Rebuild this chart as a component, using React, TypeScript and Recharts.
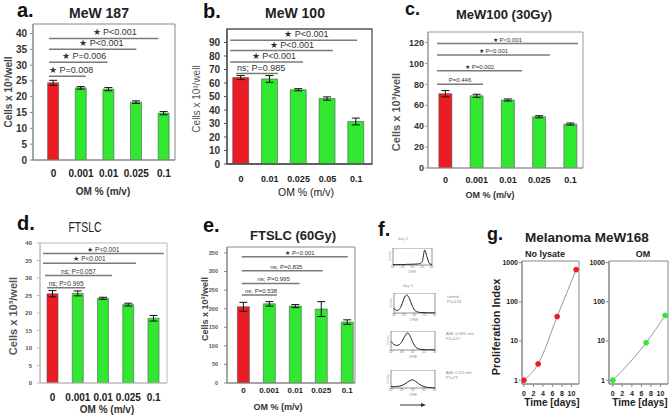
import React from "react";
import {
  Bar,
  BarChart,
  Cell,
  ErrorBar,
  Line,
  LineChart,
  ReferenceArea,
  ReferenceLine,
  XAxis,
  YAxis,
} from "recharts";

const FONT = 'Arial, "Liberation Sans", Helvetica, sans-serif';
const RED = "#ec1c24";
const GREEN = "#30e830";

// a. MeW 187
const aDoses = ["0", "0.001", "0.01", "0.025", "0.1"];
const aCells = [24.4, 22.8, 22.4, 18.3, 14.8];
const aErr = [0.8, 0.4, 0.5, 0.4, 0.5];
const aSig = [
  { from: -0.16, to: 1.17, y: 26.5, text: "★ P=0.008" },
  { from: -0.16, to: 1.96, y: 30.9, text: "★ P=0.006" },
  { from: -0.16, to: 3.0, y: 35, text: "★ P<0.001" },
  { from: -0.16, to: 3.8, y: 38.4, text: "★ P<0.001" },
];

// b. MeW 100
const bDoses = ["0", "0.01", "0.025", "0.05", "0.1"];
const bCells = [64, 63, 55, 48.5, 31.5];
const bErr = [1.5, 2.5, 0.8, 1.2, 2.5];
const bSig = [
  { from: -0.17, to: 1.28, y: 67, text: "ns; P=0.985" },
  { from: -0.38, to: 2.15, y: 75.5, text: "★ P<0.001" },
  { from: -0.38, to: 3.19, y: 84, text: "★ P<0.001" },
  { from: -0.38, to: 4.03, y: 91.7, text: "★ P<0.001" },
];

// c. MeW100 (30Gy)
const cDoses = ["0", "0.001", "0.01", "0.025", "0.1"];
const cCells = [71, 69, 65, 49, 42];
const cErr = [3, 1.5, 1, 1, 1];
const cSig = [
  { from: -0.27, to: 1.2, y: 80, text: "P=0.446" },
  { from: -0.27, to: 2.45, y: 93, text: "★ P=0.002" },
  { from: -0.27, to: 3.34, y: 108, text: "★ P<0.001" },
  { from: -0.27, to: 4.24, y: 119, text: "★ P<0.001" },
];

// d. FTSLC
const dDoses = ["0", "0.001", "0.01", "0.025", "0.1"];
const dCells = [25.5, 25.6, 24.2, 22.4, 18.5];
const dErr = [0.9, 0.7, 0.3, 0.4, 0.8];
const dSig = [
  { from: -0.22, to: 1.29, y: 27.2, text: "ns; P=0.995" },
  { from: -0.3, to: 2.35, y: 30.7, text: "ns; P=0.057" },
  { from: -0.38, to: 3.3, y: 34.2, text: "★ P<0.001" },
  { from: -0.38, to: 4.4, y: 37, text: "★ P<0.001" },
];

// e. FTSLC (60Gy)
const eDoses = ["0", "0.001", "0.01", "0.025", "0.1"];
const eCells = [205, 213, 207, 199, 164];
const eErr = [12, 6, 4, 20, 6];
const eSig = [
  { from: -0.06, to: 1.29, y: 237, text: "ns; P=0.538" },
  { from: -0.06, to: 2.17, y: 268, text: "ns; P=0.995" },
  { from: -0.06, to: 3.06, y: 302, text: "ns; P=0.835" },
  { from: -0.06, to: 4.02, y: 340, text: "★ P<0.001" },
];

// f. CFSE histograms (x in log decades)
const fLog = [0, 0.25, 0.5, 0.75, 1, 1.25, 1.5, 1.75, 2, 2.25, 2.5, 2.75, 3, 3.25, 3.5, 3.75, 4];
const fDay0 = [3, 2, 2, 3, 3, 3, 4, 4, 5, 5, 6, 8, 20, 88, 45, 8, 3];
const fControl = [25, 12, 18, 40, 75, 90, 72, 40, 15, 6, 3, 2, 2, 1, 1, 1, 1];
const fAml004 = [45, 30, 24, 28, 45, 72, 90, 72, 38, 15, 6, 3, 2, 1, 1, 1, 1];
const fAml01 = [8, 7, 8, 10, 14, 22, 32, 42, 45, 36, 24, 14, 8, 4, 2, 1, 1];
const fDecadeLabels = ["10⁰", "10¹", "10²", "10³", "10⁴"];

// g. Melanoma MeW168
const gNoDays = [0, 3, 7, 11];
const gNoIndex = [1, 2.6, 42, 660];
const gOmDays = [0, 7, 11];
const gOmIndex = [1, 9, 45];
const gDayTicks = [0, 2, 4, 6, 8, 10];
const gIndexTicks = [1, 10, 100, 1000];

type Sig = { from: number; to: number; y: number; text: string };

type PanelProps = {
  doses: string[];
  cells: number[];
  errs: number[];
  sig: Sig[];
  box: [number, number, number, number];
  xDomain: [number, number];
  yMax: number;
  yTicks: number[];
  barSize: number;
  frame: string;
  frameW: number;
  yTickFont: number;
  yTickFill: string;
  yTickGap: number;
  xTickFont: number;
  xTickGap: number;
  sigFont: number;
  sigFrac: number;
  sigGap: number;
};

function sigLabel(text: string, size: number, frac: number, gap: number) {
  return (lp: any) => {
    const vb = lp.viewBox || {};
    return (
      <text
        x={vb.x + vb.width * frac}
        y={vb.y - gap}
        textAnchor="middle"
        fontSize={size}
        fontFamily={FONT}
        fill="#333"
      >
        {text}
      </text>
    );
  };
}

function BarPanel(p: PanelProps) {
  const [l, t, r, b] = p.box;
  const yW = 30;
  const mT = 4;
  const xH = 30;
  const rows = p.doses.map((d, i) => ({ i, dose: d, cells: p.cells[i], err: p.errs[i] }));
  return (
    <div style={{ position: "absolute", left: l - yW, top: t - mT }}>
      <BarChart
        width={r - l + yW + 4}
        height={b - t + mT + xH}
        data={rows}
        margin={{ top: mT, right: 4, bottom: 0, left: 0 }}
      >
        <XAxis
          type="number"
          dataKey="i"
          domain={p.xDomain}
          ticks={[0, 1, 2, 3, 4]}
          interval={0}
          allowDataOverflow
          tickFormatter={(v) => p.doses[v] ?? ""}
          height={xH}
          tickLine={false}
          tickSize={p.xTickGap}
          tickMargin={0}
          axisLine={{ stroke: p.frame, strokeWidth: p.frameW }}
          tick={{ fontSize: p.xTickFont, fontWeight: 700, fill: "#222", fontFamily: FONT }}
        />
        <YAxis
          type="number"
          domain={[0, p.yMax]}
          ticks={p.yTicks}
          interval={0}
          allowDataOverflow
          width={yW}
          tickSize={3}
          tickMargin={p.yTickGap - 3}
          axisLine={{ stroke: p.frame, strokeWidth: p.frameW }}
          tickLine={{ stroke: p.frame }}
          tick={{ fontSize: p.yTickFont, fontWeight: 700, fill: p.yTickFill, fontFamily: FONT }}
        />
        <ReferenceArea
          x1={p.xDomain[0]}
          x2={p.xDomain[1]}
          y1={0}
          y2={p.yMax}
          fill="none"
          stroke={p.frame}
          strokeWidth={p.frameW}
          ifOverflow="visible"
        />
        <Bar
          dataKey="cells"
          barSize={p.barSize}
          isAnimationActive={false}
          stroke="#555"
          strokeWidth={0.6}
        >
          {rows.map((row) => (
            <Cell key={row.i} fill={row.i === 0 ? RED : GREEN} />
          ))}
          <ErrorBar dataKey="err" width={4} stroke="#111" strokeWidth={1} />
        </Bar>
        {p.sig.map((s, k) => (
          <ReferenceLine
            key={k}
            segment={[
              { x: s.from, y: s.y },
              { x: s.to, y: s.y },
            ]}
            stroke="#7a7a7a"
            strokeWidth={1.5}
            ifOverflow="visible"
            label={{ value: s.text, content: sigLabel(s.text, p.sigFont, p.sigFrac, p.sigGap) }}
          />
        ))}
      </BarChart>
    </div>
  );
}

function GrowthPanel(props: {
  days: number[];
  index: number[];
  color: string;
  box: [number, number, number, number];
  xDomain: [number, number];
}) {
  const [l, t, r, b] = props.box;
  const yW = 24;
  const mT = 4;
  const xH = 16;
  const rows = props.days.map((d, i) => ({ day: d, idx: props.index[i] }));
  return (
    <div style={{ position: "absolute", left: l - yW, top: t - mT }}>
      <LineChart
        width={r - l + yW + 4}
        height={b - t + mT + xH}
        data={rows}
        margin={{ top: mT, right: 4, bottom: 0, left: 0 }}
      >
        <XAxis
          type="number"
          dataKey="day"
          domain={props.xDomain}
          ticks={gDayTicks}
          interval={0}
          allowDataOverflow
          height={xH}
          tickSize={3}
          tickMargin={4}
          axisLine={{ stroke: "#888" }}
          tickLine={{ stroke: "#888" }}
          tick={{ fontSize: 7, fontWeight: 700, fill: "#222", fontFamily: FONT }}
        />
        <YAxis
          type="number"
          scale="log"
          domain={[0.8, 1100]}
          ticks={gIndexTicks}
          interval={0}
          allowDataOverflow
          width={yW}
          tickSize={3}
          tickMargin={1}
          axisLine={{ stroke: "#888" }}
          tickLine={{ stroke: "#888" }}
          tick={{ fontSize: 7, fontWeight: 700, fill: "#222", fontFamily: FONT }}
        />
        <ReferenceArea
          x1={props.xDomain[0]}
          x2={props.xDomain[1]}
          y1={0.8}
          y2={1100}
          fill="none"
          stroke="#888"
          ifOverflow="visible"
        />
        <Line
          dataKey="idx"
          type="monotone"
          stroke="#9a9a9a"
          strokeWidth={1}
          isAnimationActive={false}
          dot={{ r: 2.4, fill: props.color, stroke: props.color }}
        />
      </LineChart>
    </div>
  );
}

function HistPanel(props: { counts: number[]; box: [number, number, number, number] }) {
  const [l, t, r, b] = props.box;
  const pad = 5;
  const rows = fLog.map((x, i) => ({ x, c: props.counts[i] }));
  return (
    <div style={{ position: "absolute", left: l - pad, top: t }}>
      <LineChart
        width={r - l + pad * 2}
        height={b - t + 6}
        data={rows}
        margin={{ top: 0, right: pad, bottom: 0, left: pad }}
      >
        <XAxis
          type="number"
          dataKey="x"
          domain={[0, 4]}
          ticks={[0, 1, 2, 3, 4]}
          interval={0}
          height={6}
          tickSize={1}
          tickMargin={0}
          axisLine={false}
          tickLine={{ stroke: "#888" }}
          tickFormatter={(v) => fDecadeLabels[v] ?? ""}
          tick={{ fontSize: 3, fill: "#777", fontFamily: FONT }}
        />
        <YAxis hide domain={[0, 100]} />
        <ReferenceArea x1={0} x2={4} y1={0} y2={100} fill="none" stroke="#777" strokeWidth={0.8} />
        <Line
          dataKey="c"
          type="monotone"
          stroke="#222"
          strokeWidth={1}
          dot={false}
          isAnimationActive={false}
        />
      </LineChart>
    </div>
  );
}

type T = {
  x: number;
  y: number;
  t: string;
  s: number;
  w?: number;
  c?: string;
  a?: "start" | "middle" | "end";
  rot?: boolean;
  len?: number;
};

const texts: T[] = [
  { x: 17, y: 17, t: "a.", s: 20, w: 700, c: "#111" },
  { x: 99, y: 18, t: "MeW 187", s: 14, w: 700, a: "middle" },
  { x: 12, y: 92, t: "Cells x 10³/well", s: 10, w: 700, c: "#444", a: "middle", rot: true },
  { x: 103, y: 195, t: "OM % (m/v)", s: 10, w: 700, c: "#333", a: "middle" },

  { x: 203, y: 18, t: "b.", s: 20, w: 700, c: "#111" },
  { x: 295, y: 18, t: "MeW 100", s: 14, w: 700, a: "middle" },
  { x: 200, y: 99, t: "Cells x 10³/well", s: 10, w: 400, c: "#555", a: "middle", rot: true },
  { x: 306, y: 196, t: "OM % (m/v)", s: 10.5, w: 400, c: "#222", a: "middle" },

  { x: 405, y: 15, t: "c.", s: 18, w: 700, c: "#111" },
  { x: 504, y: 19, t: "MeW100 (30Gy)", s: 13, w: 700, a: "middle" },
  { x: 400, y: 112, t: "Cells x 10³/well", s: 11, w: 700, c: "#555", a: "middle", rot: true },
  { x: 490, y: 198, t: "OM % (m/v)", s: 9, w: 700, c: "#333", a: "middle" },

  { x: 17, y: 230, t: "d.", s: 20, w: 700, c: "#111" },
  { x: 85, y: 232, t: "FTSLC", s: 15, w: 400, c: "#222", a: "middle", len: 33 },
  { x: 17, y: 316, t: "Cells x 10³/well", s: 11, w: 700, c: "#555", a: "middle", rot: true },
  { x: 107, y: 413, t: "OM % (m/v)", s: 10, w: 700, c: "#333", a: "middle" },

  { x: 203, y: 232, t: "e.", s: 20, w: 700, c: "#111" },
  { x: 293, y: 240, t: "FTSLC (60Gy)", s: 13, w: 700, a: "middle" },
  { x: 208, y: 309, t: "Cells x 10³/well", s: 9, w: 700, c: "#444", a: "middle", rot: true },
  { x: 278, y: 410, t: "OM % (m/v)", s: 9, w: 700, c: "#333", a: "middle" },

  { x: 378, y: 236, t: "f.", s: 20, w: 700, c: "#111" },
  { x: 403, y: 240, t: "day 0", s: 4, c: "#999", a: "middle" },
  { x: 408, y: 287, t: "day 5", s: 4, c: "#999", a: "middle" },
  { x: 447, y: 298, t: "control", s: 4, c: "#888" },
  { x: 447, y: 302.5, t: "P1=133", s: 4, c: "#888" },
  { x: 446, y: 335, t: "AML 0.04% m/v", s: 4, c: "#888" },
  { x: 446, y: 339.5, t: "P1=127", s: 4, c: "#888" },
  { x: 446, y: 374, t: "AML 0.1% m/v", s: 4, c: "#888" },
  { x: 446, y: 378.5, t: "P1=71", s: 4, c: "#888" },
  { x: 412, y: 273, t: "CFSE", s: 3, c: "#888", a: "middle" },
  { x: 414, y: 321, t: "CFSE", s: 3, c: "#888", a: "middle" },
  { x: 413, y: 358, t: "CFSE", s: 3, c: "#888", a: "middle" },
  { x: 413, y: 396, t: "CFSE", s: 3, c: "#888", a: "middle" },
  { x: 391, y: 256, t: "Counts", s: 3, c: "#999", a: "middle", rot: true },
  { x: 392, y: 303, t: "Counts", s: 3, c: "#999", a: "middle", rot: true },
  { x: 389, y: 340, t: "Counts", s: 3, c: "#999", a: "middle", rot: true },
  { x: 389, y: 379, t: "Counts", s: 3, c: "#999", a: "middle", rot: true },

  { x: 487, y: 240, t: "g.", s: 18, w: 700, c: "#111" },
  { x: 587, y: 242, t: "Melanoma MeW168", s: 13.5, w: 700, a: "middle" },
  { x: 545, y: 257, t: "No lysate", s: 9, w: 700, a: "middle" },
  { x: 643, y: 257, t: "OM", s: 9, w: 700, a: "middle" },
  { x: 500, y: 327, t: "Proliferation Index", s: 11, w: 700, a: "middle", rot: true },
  { x: 552, y: 406, t: "Time [days]", s: 10, w: 700, a: "middle" },
  { x: 640, y: 406, t: "Time [days]", s: 10, w: 700, a: "middle" },
];

export default function App() {
  return (
    <div
      style={{
        position: "absolute",
        left: 0,
        top: 0,
        width: 671,
        height: 417,
        background: "#fff",
        overflow: "hidden",
        fontFamily: FONT,
      }}
    >
      <BarPanel
        doses={aDoses}
        cells={aCells}
        errs={aErr}
        sig={aSig}
        box={[33, 24, 175, 160]}
        xDomain={[-0.74, 4.4]}
        yMax={43}
        yTicks={[0, 5, 10, 15, 20, 25, 30, 35, 40]}
        barSize={11}
        frame="#888"
        frameW={1}
        yTickFont={10}
        yTickFill="#333"
        yTickGap={6}
        xTickFont={10}
        xTickGap={10}
        sigFont={9}
        sigFrac={0.6}
        sigGap={3.5}
      />
      <BarPanel
        doses={bDoses}
        cells={bCells}
        errs={bErr}
        sig={bSig}
        box={[227, 29, 372, 164]}
        xDomain={[-0.49, 4.55]}
        yMax={100}
        yTicks={[0, 10, 20, 30, 40, 50, 60, 70, 80, 90]}
        barSize={16}
        frame="#555"
        frameW={1.3}
        yTickFont={10}
        yTickFill="#333"
        yTickGap={7}
        xTickFont={9}
        xTickGap={12}
        sigFont={9}
        sigFrac={0.6}
        sigGap={3}
      />
      <BarPanel
        doses={cDoses}
        cells={cCells}
        errs={cErr}
        sig={cSig}
        box={[428, 32, 583, 168]}
        xDomain={[-0.56, 4.4]}
        yMax={130}
        yTicks={[0, 20, 40, 60, 80, 100, 120]}
        barSize={13}
        frame="#999"
        frameW={1}
        yTickFont={9}
        yTickFill="#333"
        yTickGap={4}
        xTickFont={9}
        xTickGap={9}
        sigFont={6}
        sigFrac={0.5}
        sigGap={2}
      />
      <BarPanel
        doses={dDoses}
        cells={dCells}
        errs={dErr}
        sig={dSig}
        box={[40, 243, 167, 383]}
        xDomain={[-0.5, 4.53]}
        yMax={40}
        yTicks={[0, 5, 10, 15, 20, 25, 30, 35, 40]}
        barSize={11}
        frame="#bbb"
        frameW={1}
        yTickFont={6}
        yTickFill="#555"
        yTickGap={8}
        xTickFont={10}
        xTickGap={11}
        sigFont={6.5}
        sigFrac={0.5}
        sigGap={2}
      />
      <BarPanel
        doses={eDoses}
        cells={eCells}
        errs={eErr}
        sig={eSig}
        box={[227, 247, 355, 383]}
        xDomain={[-0.63, 4.3]}
        yMax={366}
        yTicks={[0, 50, 100, 150, 200, 250, 300, 350]}
        barSize={12}
        frame="#888"
        frameW={1}
        yTickFont={5.5}
        yTickFill="#555"
        yTickGap={9}
        xTickFont={8}
        xTickGap={4}
        sigFont={6}
        sigFrac={0.55}
        sigGap={2}
      />

      <HistPanel counts={fDay0} box={[393, 248, 432, 265]} />
      <HistPanel counts={fControl} box={[394, 293, 435, 313]} />
      <HistPanel counts={fAml004} box={[391, 331, 435, 350]} />
      <HistPanel counts={fAml01} box={[391, 370, 435, 388]} />

      <GrowthPanel days={gNoDays} index={gNoIndex} color={RED} box={[522, 261, 579, 384]} xDomain={[-0.4, 11.6]} />
      <GrowthPanel days={gOmDays} index={gOmIndex} color={GREEN} box={[609, 261, 668, 384]} xDomain={[-0.8, 11.6]} />

      <svg
        width={671}
        height={417}
        style={{ position: "absolute", left: 0, top: 0, pointerEvents: "none" }}
      >
        {texts.map((d, k) => (
          <text
            key={k}
            x={d.rot ? 0 : d.x}
            y={d.rot ? 0 : d.y}
            transform={d.rot ? `translate(${d.x},${d.y}) rotate(-90)` : undefined}
            fontSize={d.s}
            fontWeight={d.w ?? 400}
            fill={d.c ?? "#222"}
            textAnchor={d.a ?? "start"}
            fontFamily={FONT}
            textLength={d.len}
            lengthAdjust={d.len ? "spacingAndGlyphs" : undefined}
          >
            {d.t}
          </text>
        ))}
        <line x1={400} y1={405} x2={422} y2={405} stroke="#333" strokeWidth={1} />
        <polygon points="421,403 426,405 421,407" fill="#333" />
      </svg>
    </div>
  );
}
